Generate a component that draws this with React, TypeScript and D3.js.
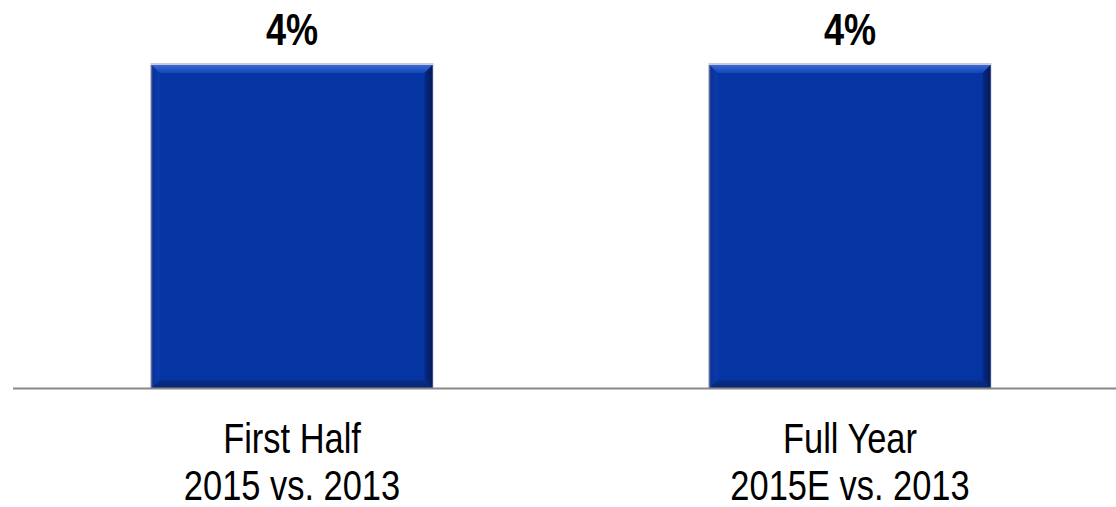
import React from "react";
import * as d3 from "d3";

const categoriesLine1 = ["First Half", "Full Year"];
const categoriesLine2 = ["2015 vs. 2013", "2015E vs. 2013"];
const values = [4, 4];
const valueLabels = ["4%", "4%"];

const W = 1116;
const H = 507;
const FONT = "'Liberation Sans', Arial, sans-serif";
const NARROW = 0.82;

function NarrowText(props: { x: number; y: number; size: number; bold?: boolean; children: string }) {
  return (
    <text
      transform={`translate(${props.x},${props.y}) scale(${NARROW},1)`}
      textAnchor="middle"
      fontFamily={FONT}
      fontWeight={props.bold ? "bold" : "normal"}
      fontSize={props.size}
      fill="#000"
    >
      {props.children}
    </text>
  );
}

export default function App() {
  const x = d3.scaleBand<number>().domain(d3.range(values.length)).range([13, 1129]).paddingInner(0.5).paddingOuter(0.25);
  const y = d3.scaleLinear().domain([0, 4]).range([388, 65]);
  const bw = 281;
  const bev = 8;
  return (
    <svg width={W} height={H} style={{ position: "absolute", left: 0, top: 0, background: "#fff" }}>
      <defs>
        <linearGradient id="topBev" x1="0" y1="0" x2="0" y2="1">
          <stop offset="0" stopColor="#3a6ad8" />
          <stop offset="1" stopColor="#1545b5" />
        </linearGradient>
        <linearGradient id="rightBev" x1="0" y1="0" x2="1" y2="0">
          <stop offset="0" stopColor="#052a8a" />
          <stop offset="1" stopColor="#061a55" />
        </linearGradient>
        <linearGradient id="botBev" x1="0" y1="0" x2="0" y2="1">
          <stop offset="0" stopColor="#05308f" />
          <stop offset="1" stopColor="#0a2470" />
        </linearGradient>
        <linearGradient id="leftBev" x1="0" y1="0" x2="1" y2="0">
          <stop offset="0" stopColor="#0c2f8f" />
          <stop offset="1" stopColor="#0a3bb0" />
        </linearGradient>
      </defs>
      {values.map((v, i) => {
        const cx = (x(i) as number) + x.bandwidth() / 2;
        const x0 = cx - bw / 2;
        const x1 = cx + bw / 2;
        const y0 = y(v);
        const y1 = y(0);
        return (
          <g key={i}>
            <rect x={x0 - 1} y={y0 - 2} width={bw + 2} height={y1 - y0 + 2} fill="#c8cbd8" />
            <rect x={x0} y={y0} width={bw} height={y1 - y0} fill="#0535a3" />
            <polygon points={`${x0},${y0} ${x1},${y0} ${x1 - bev},${y0 + bev} ${x0 + bev},${y0 + bev}`} fill="url(#topBev)" />
            <polygon points={`${x1},${y0} ${x1},${y1} ${x1 - bev},${y1 - bev} ${x1 - bev},${y0 + bev}`} fill="url(#rightBev)" />
            <polygon points={`${x0},${y1} ${x1},${y1} ${x1 - bev},${y1 - bev} ${x0 + bev},${y1 - bev}`} fill="url(#botBev)" />
            <polygon points={`${x0},${y0} ${x0 + bev},${y0 + bev} ${x0 + bev},${y1 - bev} ${x0},${y1}`} fill="url(#leftBev)" />
            <line x1={x0} x2={x0} y1={y0} y2={y1} stroke="#5a6a9a" strokeWidth={1.5} />
            <NarrowText x={cx} y={45} size={44} bold>{valueLabels[i]}</NarrowText>
            <NarrowText x={cx} y={453} size={42}>{categoriesLine1[i]}</NarrowText>
            <NarrowText x={cx} y={500} size={42}>{categoriesLine2[i]}</NarrowText>
          </g>
        );
      })}
      <line x1={13} x2={1116} y1={388.5} y2={388.5} stroke="#888" strokeWidth={2} />
    </svg>
  );
}
